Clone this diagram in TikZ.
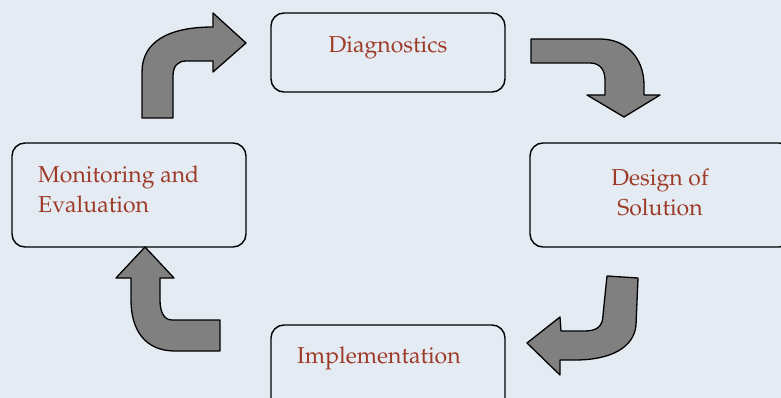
\documentclass[tikz,border=0pt]{standalone}
\usepackage[T1]{fontenc}
\usepackage{mathpazo}
\definecolor{bgblue}{RGB}{228,235,242}
\definecolor{steptext}{RGB}{158,58,40}
\definecolor{arrowgray}{RGB}{128,128,128}
\begin{document}
\begin{tikzpicture}[x=1pt, y=-1pt,
		every node/.style={font=\fontsize{23}{30}\selectfont, text=steptext},
		stagebox/.style={draw=black, line width=1.4pt, rounded corners=13pt, fill=bgblue, inner sep=0pt},
		bigarrow/.style={draw=black, line width=1.3pt, fill=arrowgray, line join=round}
		]
		
		% Background and page size
		\fill[bgblue] (0,0) rectangle (781,398);
		\useasboundingbox (0,0) rectangle (781,398);
		\clip (0,0) rectangle (781,398);
		
		% Draw Stage Boxes
		\node[stagebox, minimum width=234pt, minimum height=79pt] (diag) at (388, 52.5) {};
		\node[stagebox, minimum width=262pt, minimum height=104pt] (design) at (661, 195) {};
		\node[stagebox, minimum width=234pt, minimum height=104pt] (impl) at (388, 377) {};
		\node[stagebox, minimum width=234pt, minimum height=104pt] (monit) at (129, 195) {};
		
		% Add Stage Labels
		\node[anchor=base] (diag-txt) at (388, 53) {Diagnostics};
		\node[anchor=base, align=center] (design-txt) at (660, 215) {Design of\\Solution};
		\node[anchor=base west, inner sep=0pt] (impl-txt) at (297, 363) {Implementation};
		\node[anchor=base west, inner sep=0pt, align=left] (monit-txt) at (38, 212) {Monitoring and\\Evaluation};
		
		% Draw Block Arrows
		\draw[bigarrow] (142,118) -- (142,72) .. controls (142,42) and (168,27) .. (213,27)
			-- (213,13) -- (246,43) -- (213,72) -- (213,61) -- (186,61)
			.. controls (178,61) and (173,66) .. (173,76) -- (173,118) -- cycle;
		\draw[bigarrow] (531,39) -- (600,39) .. controls (628,39) and (644,60) .. (644,85)
			-- (644,95) -- (660,95) -- (624,117) -- (587,95) -- (605,95) -- (605,80)
			.. controls (605,70) and (600,63) .. (590,63) -- (531,63) -- cycle;
		\draw[bigarrow] (607,276) -- (638,278) -- (636,325) .. controls (634,348) and (610,360) .. (575,360)
			-- (560,360) -- (560,375) -- (527,343) -- (560,317) -- (561,331) -- (585,331)
			.. controls (597,331) and (603,326) .. (603,315) -- cycle;
		\draw[bigarrow] (220,320) -- (172,320) .. controls (164,320) and (160,312) .. (160,300)
			-- (160,278) -- (174,278) -- (145,247) -- (116,278) -- (131,278) -- (131,300)
			.. controls (131,330) and (145,351) .. (175,351) -- (220,351) -- cycle;
		
	\end{tikzpicture}
\end{document}
